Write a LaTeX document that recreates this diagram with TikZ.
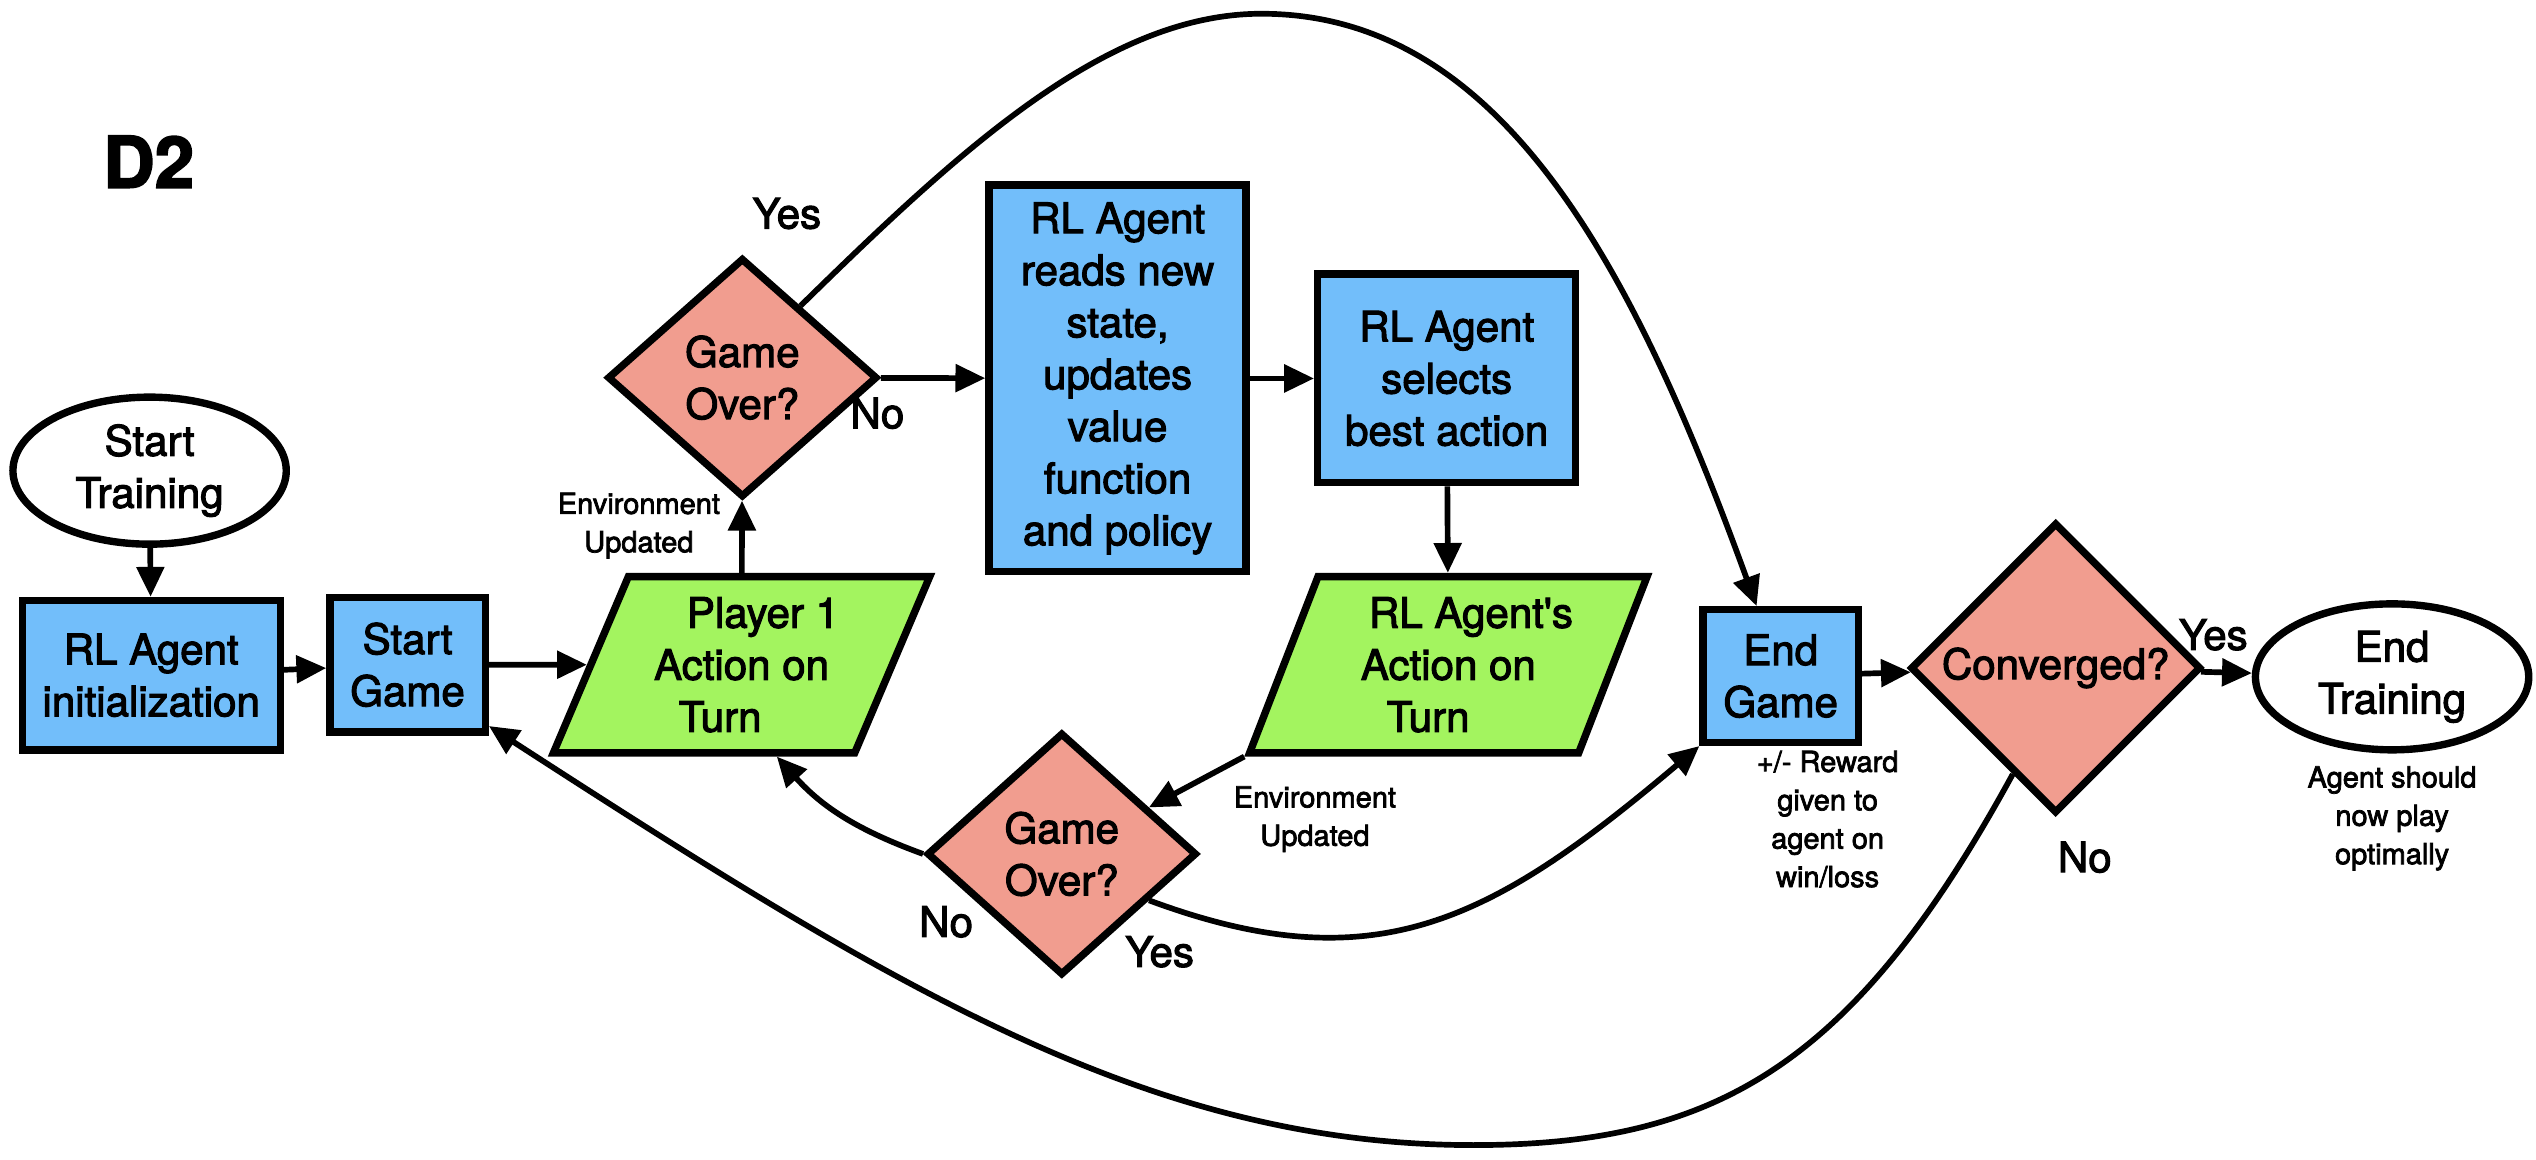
\documentclass[tikz,border=0pt]{standalone}
\usepackage{fontspec}
\setmainfont{TeX Gyre Heros}[RawFeature={embolden=2.5}]
\usepackage{tikz}
\usetikzlibrary{shapes.geometric}
\usetikzlibrary{arrows.meta}

\definecolor{agentblue}{HTML}{72BEFA}
\definecolor{gamered}{HTML}{F19D8F}
\definecolor{turngreen}{HTML}{A3F45F}

\tikzset{
  box/.style={draw, line width=2.6pt, align=center, inner sep=2pt, font=\fontsize{14.8}{18.3}\selectfont},
  agentbox/.style={box, rectangle, fill=agentblue},
  decision/.style={box, diamond, fill=gamered},
  turnbox/.style={box, trapezium, trapezium left angle=65, trapezium right angle=115, trapezium stretches=true, fill=turngreen},
  terminal/.style={box, ellipse, fill=white},
  note/.style={align=center, font=\fontsize{10.2}{13.5}\selectfont},
  answer/.style={font=\fontsize{14.8}{18}\selectfont},
  flow/.style={line width=2pt, -{Triangle[length=10.5pt, width=9.5pt]}}
}

\begin{document}
\begin{tikzpicture}

\useasboundingbox (0,0) rectangle (31.36,14.34);

\node [font=\fontsize{25}{30}\selectfont\bfseries] at (1.84,12.34) (title) {D2};

\node [terminal, minimum width=3.38cm, minimum height=1.80cm] at (1.85,8.52) (strain) {Start\\Training};
\node [agentbox, minimum width=3.19cm, minimum height=1.85cm] at (1.87,5.99) (init) {RL Agent\\initialization};
\node [agentbox, minimum width=1.92cm, minimum height=1.66cm] at (5.04,6.12) (sgame) {Start\\Game};
\node [turnbox, minimum width=4.66cm, minimum height=2.18cm] at (9.17,6.12) (p1) {\hspace*{0.53cm}Player 1\\Action on\\\mbox{Turn\hspace{0.53cm}}};
\node [decision, minimum width=3.34cm, minimum height=2.96cm] at (9.18,9.67) (go1) {Game\\Over?};
\node [agentbox, minimum width=3.18cm, minimum height=4.78cm] at (13.82,9.66) (rlread) {RL Agent\\reads new\\state,\\updates\\value\\function\\and policy};
\node [agentbox, minimum width=3.19cm, minimum height=2.58cm] at (17.89,9.66) (rlsel) {RL Agent\\selects\\best action};
\node [turnbox, minimum width=4.61cm, minimum height=2.18cm] at (17.91,6.12) (rlact) {\hspace*{0.56cm}RL Agent\textquotesingle s\\Action on\\\mbox{Turn\hspace{0.5cm}}};
\node [decision, minimum width=3.34cm, minimum height=3.00cm] at (13.13,3.78) (go2) {Game\\Over?};
\node [agentbox, minimum width=1.92cm, minimum height=1.64cm] at (22.02,5.98) (egame) {End\\Game};
\node [decision, minimum width=3.56cm, minimum height=3.40cm] at (25.42,6.08) (conv) {Converged?};
\node [terminal, minimum width=3.38cm, minimum height=1.76cm] at (29.58,5.97) (etrain) {End\\Training};

\node [note] at (7.90,7.84) (envup1) {Environment\\Updated};
\node [note] at (16.26,4.21) (envup2) {Environment\\Updated};
\node [note] at (22.60,4.21) (reward) {+/- Reward\\given to\\agent on\\win/loss};
\node [note] at (29.58,4.22) (optimal) {Agent should\\now play\\optimally};

\node [answer] at (9.73,11.70) (yes1) {Yes};
\node [answer] at (10.85,9.23) (no1) {No};
\node [answer] at (11.70,2.94) (no2) {No};
\node [answer] at (14.34,2.57) (yes2) {Yes};
\node [answer] at (27.37,6.49) (yes3) {Yes};
\node [answer] at (25.78,3.74) (no3) {No};

\coordinate (arctop) at (15.6,14.17);
\coordinate (arclow) at (18.22,0.18);

\draw [flow] (strain) -- (init);
\draw [flow] (init) -- (sgame);
\draw [flow] (sgame) -- (p1);
\draw [flow] (p1) -- (go1);
\draw [flow] (go1) -- (rlread);
\draw [flow] (rlread) -- (rlsel);
\draw [flow] (rlsel) -- (rlact);
\draw [flow] (rlact.bottom left corner) -- (go2);
\draw [flow] (go2.west) to[out=160, in=-48] (p1.-69);
\draw [flow] (go2.-28) .. controls (17.0,2.17) and (18.44,2.94) .. (egame.south west);
\draw [flow] (egame) -- (conv);
\draw [flow] (conv) -- (etrain);

\draw [flow] (go1.51) .. controls (11.91,12.53) and (13.7,14.17) .. (arctop) .. controls (18.6,14.17) and (20.23,10.95) .. (egame.109);
\draw [flow] (conv.-112) .. controls (22.92,1.16) and (21.22,0.18) .. (arclow) .. controls (14.22,0.18) and (11.04,2.13) .. (sgame.-37);

\end{tikzpicture}
\end{document}
